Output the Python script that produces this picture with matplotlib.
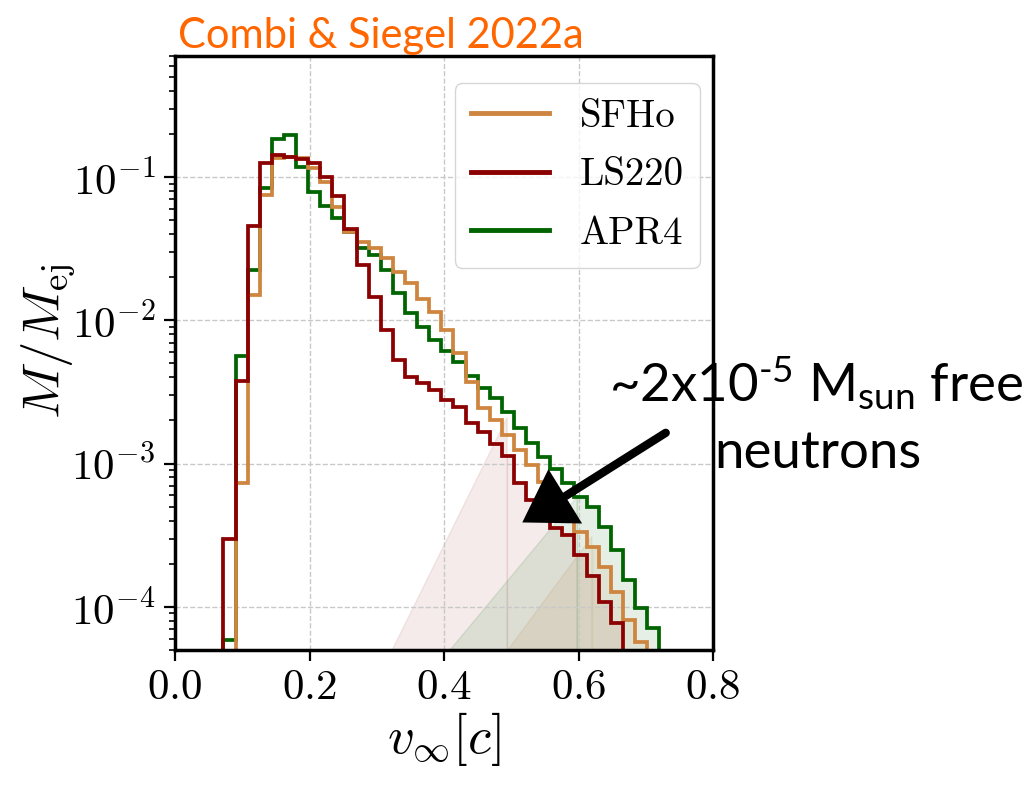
import numpy as np
import matplotlib
matplotlib.use("Agg")
import matplotlib.pyplot as plt
from matplotlib.patches import Polygon
from matplotlib.lines import Line2D
from matplotlib.ticker import FixedLocator, FuncFormatter, LogLocator, NullFormatter

plt.rcParams['font.family'] = 'serif'
plt.rcParams['font.serif'] = ['cmr10']
plt.rcParams['mathtext.fontset'] = 'cm'
plt.rcParams['axes.unicode_minus'] = False
plt.rcParams['mathtext.rm'] = 'Lato'
plt.rcParams['mathtext.it'] = 'Lato:italic'
plt.rcParams['mathtext.bf'] = 'Lato:bold'

# ---------------- data ----------------
bin_edges = np.round(np.arange(3, 42) * 0.018, 3)   # 0.054 ... 0.738

sfho = [0, 0, 7.3e-4, 1.5e-2, 7.5e-2, 0.135, 0.139, 0.135, 0.115, 0.0927,
        0.062, 0.0416, 0.0354, 0.0318, 0.0271, 0.0218, 0.0181, 0.0142, 0.0115, 8.55e-3,
        5.89e-3, 3.73e-3, 2.43e-3, 2.01e-3, 1.58e-3, 1.24e-3, 9.8e-4, 7.5e-4, 5.7e-4, 4.4e-4,
        3.35e-4, 2.63e-4, 1.91e-4, 1.28e-4, 8.1e-5, 5.7e-5, 0, 0]
ls220 = [0, 3.0e-4, 3.8e-3, 4.55e-2, 0.125, 0.142, 0.139, 0.133, 0.125, 0.100,
         0.0737, 0.0435, 0.0243, 0.0146, 8.56e-3, 5.28e-3, 4.04e-3, 3.67e-3, 3.28e-3, 2.8e-3,
         2.5e-3, 1.91e-3, 1.66e-3, 1.37e-3, 1.13e-3, 7.3e-4, 5.57e-4, 4.26e-4, 3.53e-4, 3.17e-4,
         2.30e-4, 1.63e-4, 1.09e-4, 7.7e-5, 0, 0, 0, 0]
apr4 = [0, 5.9e-5, 5.6e-3, 2.24e-2, 8.4e-2, 0.183, 0.196, 0.118, 0.079, 0.0627,
        0.0515, 0.0416, 0.032, 0.0286, 0.0224, 0.0154, 0.0112, 9.0e-3, 7.3e-3, 6.1e-3,
        5.1e-3, 4.1e-3, 3.35e-3, 2.85e-3, 2.3e-3, 1.76e-3, 1.39e-3, 1.12e-3, 9.1e-4, 7.35e-4,
        5.88e-4, 5.0e-4, 3.6e-4, 2.5e-4, 1.54e-4, 9.8e-5, 7.1e-5, 0]

labels = ['SFHo', 'LS220', 'APR4']
colors = ['peru', 'darkred', 'darkgreen']
series = [sfho, ls220, apr4]

# shaded high-velocity tails (chord base velocity, chord top velocity, chord top value)
shade_v_base = [0.495, 0.323, 0.409]
shade_v_top = [0.620, 0.494, 0.598]
shade_y_top = [3.1e-4, 2.1e-3, 5.85e-4]
shade_alpha = [0.10, 0.08, 0.10]

y_lo, y_hi = 5e-5, 0.7

# ---------------- figure ----------------
fig = plt.figure(figsize=(10.30, 7.92), dpi=100)
ax = fig.add_axes([175/1030, 1-650/792, 538/1030, 594/792])
ax.set_yscale('log')

edges = np.asarray(bin_edges)
for vals, c, vb, vt, yt, a in zip(series, colors, shade_v_base, shade_v_top, shade_y_top, shade_alpha):
    vals = np.asarray(vals, float)
    tri = Polygon([(vb, y_lo), (vt, yt), (vt, y_lo)], closed=True,
                  facecolor=c, edgecolor=c, alpha=a, lw=1, zorder=1)
    ax.add_patch(tri)
    k = np.searchsorted(edges, vt, side='right') - 1
    xs = [vt, vt]
    ys = [y_lo, max(vals[k], 1e-12)]
    for j in range(k, len(vals)):
        if vals[j] <= 0:
            xs.append(edges[j]); ys.append(y_lo)
            break
        xs.append(max(edges[j], vt)); ys.append(vals[j])
        xs.append(edges[j+1]); ys.append(vals[j])
    xs.append(xs[-1]); ys.append(y_lo)
    poly = Polygon(list(zip(xs, ys)), closed=True, facecolor=c, edgecolor=c,
                   alpha=a, lw=1, zorder=1)
    ax.add_patch(poly)

for vals, c, z in zip([apr4, sfho, ls220], ['darkgreen', 'peru', 'darkred'], [2.1, 2.2, 2.3]):
    v = np.where(np.asarray(vals) > 0, vals, 1e-12)
    ax.stairs(v, edges, baseline=None, color=c, lw=2.7, zorder=z)

ax.set_xlim(0, 0.8)
ax.set_ylim(y_lo, y_hi)

ax.xaxis.set_major_locator(FixedLocator([0.0, 0.2, 0.4, 0.6, 0.8]))
ax.xaxis.set_major_formatter(FuncFormatter(lambda x, p: '$%.1f$' % x))
ax.yaxis.set_major_locator(FixedLocator([1e-4, 1e-3, 1e-2, 1e-1]))
ax.yaxis.set_major_formatter(FuncFormatter(lambda y, p: r'$10^{%d}$' % round(np.log10(y))))
ax.yaxis.set_minor_locator(LogLocator(base=10, subs=np.arange(2, 10)))
ax.yaxis.set_minor_formatter(NullFormatter())

ax.tick_params(axis='both', which='major', labelsize=31, length=8, width=1.6, direction='out', pad=6)
ax.tick_params(axis='y', which='minor', length=4, width=1.2, direction='out')
for s in ax.spines.values():
    s.set_linewidth(2.5)

ax.grid(True, which='major', ls='--', color='#c8c8c8', lw=1.0)

ax.set_xlabel(r'$v_{\infty}[c]$', fontsize=38, labelpad=2)
ax.set_ylabel(r'$M/M_{\rm ej}$', fontsize=38)
ax.yaxis.set_label_coords(-0.18, 0.52)

leg_handles = [Line2D([], [], color=c, lw=3.5) for c in colors]
leg = ax.legend(leg_handles, labels, loc='upper right', bbox_to_anchor=(0.976, 0.955),
                borderaxespad=0, fontsize=28, framealpha=0.8, edgecolor='#cccccc',
                handlelength=2.0, labelspacing=0.58, borderpad=0.42, handletextpad=0.8)
leg.set_zorder(6)

# hand-drawn style arrow annotation
head = Polygon([(0.5197, 3.97e-4), (0.5555, 8.74e-4), (0.6016, 3.91e-4)], closed=True,
               facecolor='black', edgecolor='black', lw=2, zorder=7, clip_on=False)
ax.add_patch(head)
ax.plot([0.5808, 0.7297], [5.94e-4, 1.64e-3], color='black', lw=6,
        solid_capstyle='round', zorder=7, clip_on=False)

fig.text(178/1030, 1-48/792, 'Combi & Siegel 2022a', color='#FF6600', fontsize=30,
         family='Lato', va='baseline', ha='left')

fig.text(816/1030, 1-402/792, r'~2x10$^{\text{-5}}$ M$_{\mathrm{sun}}$ free',
         fontsize=38, family='Lato', math_fontfamily='custom', ha='center', va='baseline',
         color='black')
fig.text(818/1030, 1-468/792, 'neutrons',
         fontsize=38, family='Lato', ha='center', va='baseline', color='black')

fig.savefig('out.png', dpi=100)
